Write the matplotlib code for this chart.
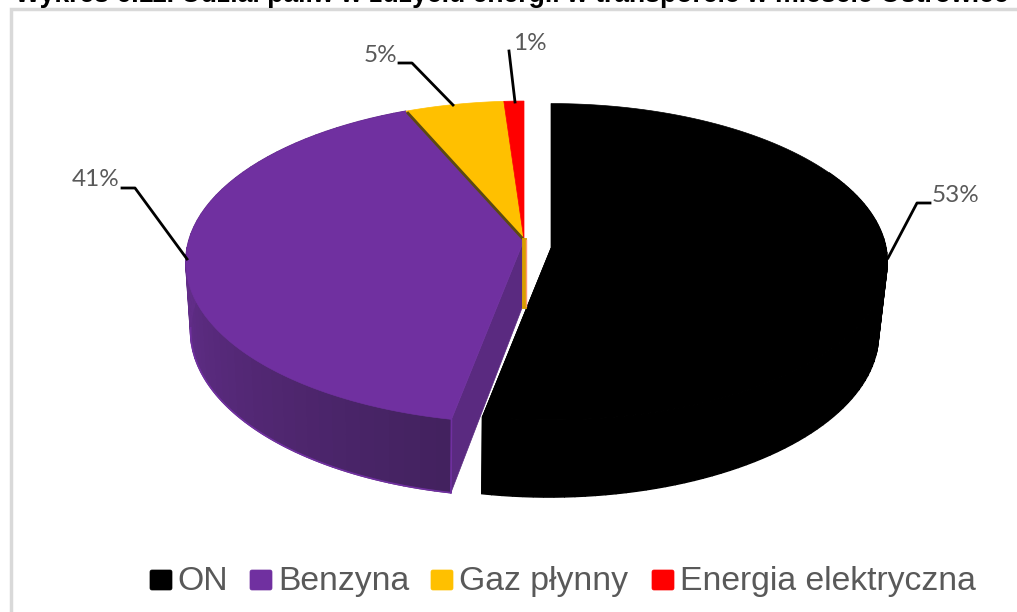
import numpy as np
import matplotlib
matplotlib.use("Agg")
import matplotlib.pyplot as plt
import matplotlib.patches as patches

title = "Wykres 6.11. Udział paliw w zużyciu energii w transporcie w mieście Ostrowiec"
categories = ["ON", "Benzyna", "Gaz płynny", "Energia elektryczna"]
values = [53.0, 40.51, 5.4, 1.09]
colors = ["#000000", "#7030a0", "#ffc000", "#ff0000"]

fig = plt.figure(figsize=(10.17, 6.12), dpi=100)
ax = fig.add_axes([0, 0, 1, 1])
ax.set_xlim(0, 1017)
ax.set_ylim(612, 0)
ax.axis("off")

# perspective of the tilted pie
RX, RY, K = 335, 158, 0.137
RX_ON, RY_ON, K_ON = 335, 157, 0.087
SCALE_X, SCALE_Y = 0.98, 1.03


def edge(a_deg, c, rx, ry, k):
    a = np.radians(a_deg)
    u, v = np.sin(a), -np.cos(a)
    w = 1 - k * v
    return c[0] + rx * u / w, c[1] + ry * v / w


def arc(a0, a1, c, rx, ry, k, n=120):
    t = np.linspace(a0, a1, n)
    x, y = edge(t, c, rx, ry, k)
    return np.column_stack([x, y])


def side(a0, a1, c_top, c_bot, rx, ry, k, col):
    # outer wall of a slice, one small strip at a time
    top = arc(a0, a1, c_top, rx, ry, k, 4)
    bot = arc(a0, a1, c_bot, rx * SCALE_X, ry * SCALE_Y, k, 4)
    ax.add_patch(patches.Polygon(np.vstack([top, bot[::-1]]), fc=col, ec=col, lw=1))


bounds = np.concatenate([[0], np.cumsum(values)]) * 3.6
on_c = (551, 248)
on_bot = (549, 320)
main_c = (524, 240)
bot_c = (522, 308)

# frame of the chart, cut off by the screenshot
ax.plot([11, 11, 1017], [612, 8.5, 8.5], color="#d9d9d9", lw=2.5, solid_joinstyle="miter")

# black slice, back part of the wall is hidden so start it at the side
steps = np.linspace(bounds[0] + 60, bounds[1], 80)
for a0, a1 in zip(steps[:-1], steps[1:]):
    side(a0, a1, on_c, on_bot, RX_ON, RY_ON, K_ON, colors[0])
top = arc(bounds[0], bounds[1], on_c, RX_ON, RY_ON, K_ON)
ax.add_patch(patches.Polygon(np.vstack([[on_c], top]), fc=colors[0], ec=colors[0], lw=0.5))
on_end = edge(bounds[1], on_c, RX_ON, RY_ON, K_ON)
on_end2 = edge(bounds[1], on_bot, RX_ON * SCALE_X, RY_ON * SCALE_Y, K_ON)
ax.add_patch(patches.Polygon([on_c, on_end, on_end2, on_bot], fc=colors[0], ec=colors[0], lw=0.5))

# purple side, darker towards the front
c0 = np.array(matplotlib.colors.to_rgb("#43225f"))
c1 = np.array(matplotlib.colors.to_rgb("#612d88"))
steps = np.linspace(bounds[1], bounds[2], 60)
for a0, a1 in zip(steps[:-1], steps[1:]):
    f = min((a0 - bounds[1]) / 70, 1)
    side(a0, a1, main_c, bot_c, RX, RY, K, c0 + (c1 - c0) * f)
b_a = arc(bounds[1], bounds[2], bot_c, RX * SCALE_X, RY * SCALE_Y, K)
ax.plot(b_a[:60, 0], b_a[:60, 1], color=colors[1], lw=1.2)

# cut face of the purple slice
p_top = edge(bounds[1], main_c, RX, RY, K)
p_bot = edge(bounds[1], bot_c, RX * SCALE_X, RY * SCALE_Y, K)
ax.add_patch(patches.Polygon([main_c, bot_c, p_bot, p_top], fc="#5a2a80", ec="#5a2a80", lw=0.5))
ax.plot([p_top[0], p_bot[0]], [p_top[1], p_bot[1]], color=colors[1], lw=1.2)

# top faces of purple, yellow, red
for i in [1, 2, 3]:
    pts = np.vstack([[main_c], arc(bounds[i], bounds[i + 1], main_c, RX, RY, K)])
    ax.add_patch(patches.Polygon(pts, fc=colors[i], ec=colors[i], lw=0.5))

# thin walls seen at the yellow slice
g_end = edge(bounds[2], main_c, RX, RY, K)
ax.plot([main_c[0], g_end[0] + 2], [main_c[1], g_end[1] + 2], color="#5c4a10", lw=2)
ax.plot([main_c[0] - 0.5, bot_c[0] + 1.5], [main_c[1], bot_c[1] - 2], color="#d99f00", lw=3.5)
ax.plot([main_c[0] + 1.5, bot_c[0] + 3.5], [main_c[1], bot_c[1] - 2], color="#ff9a70", lw=1)

# data labels and leader lines
label_xy = [(956, 195), (96, 180), (380, 55), (530, 43)]
leaders = [
    [(888, 258), (917, 203), (930, 203)],
    [(187, 259), (135, 188), (122, 188)],
    [(453, 105), (412, 63), (399, 63)],
    [(515, 102), (509, 51)],
]
for v, xy, line in zip(values, label_xy, leaders):
    ax.text(xy[0], xy[1], f"{v:.0f}%", color="#595959", fontsize=17.5, family="Lato", ha="center", va="center")
    xs, ys = zip(*line)
    ax.plot(xs, ys, color="black", lw=2)

# legend
box_x = [150, 250, 431, 652]
text_x = [177, 278, 459, 680]
for name, col, bx, tx in zip(categories, colors, box_x, text_x):
    ax.add_patch(patches.FancyBboxPatch((bx + 2, 572), 18, 16, boxstyle="round,pad=2", fc=col, ec=col, lw=0.5))
    ax.text(tx, 590, name, color="#595959", fontsize=24.3, family="Liberation Sans", ha="left", va="baseline")

# title, its top is outside the picture
ax.text(15, 2.5, title, color="black", fontsize=19.2, family="Liberation Sans", weight="bold", ha="left", va="baseline")

fig.savefig("out.png", dpi=100)
